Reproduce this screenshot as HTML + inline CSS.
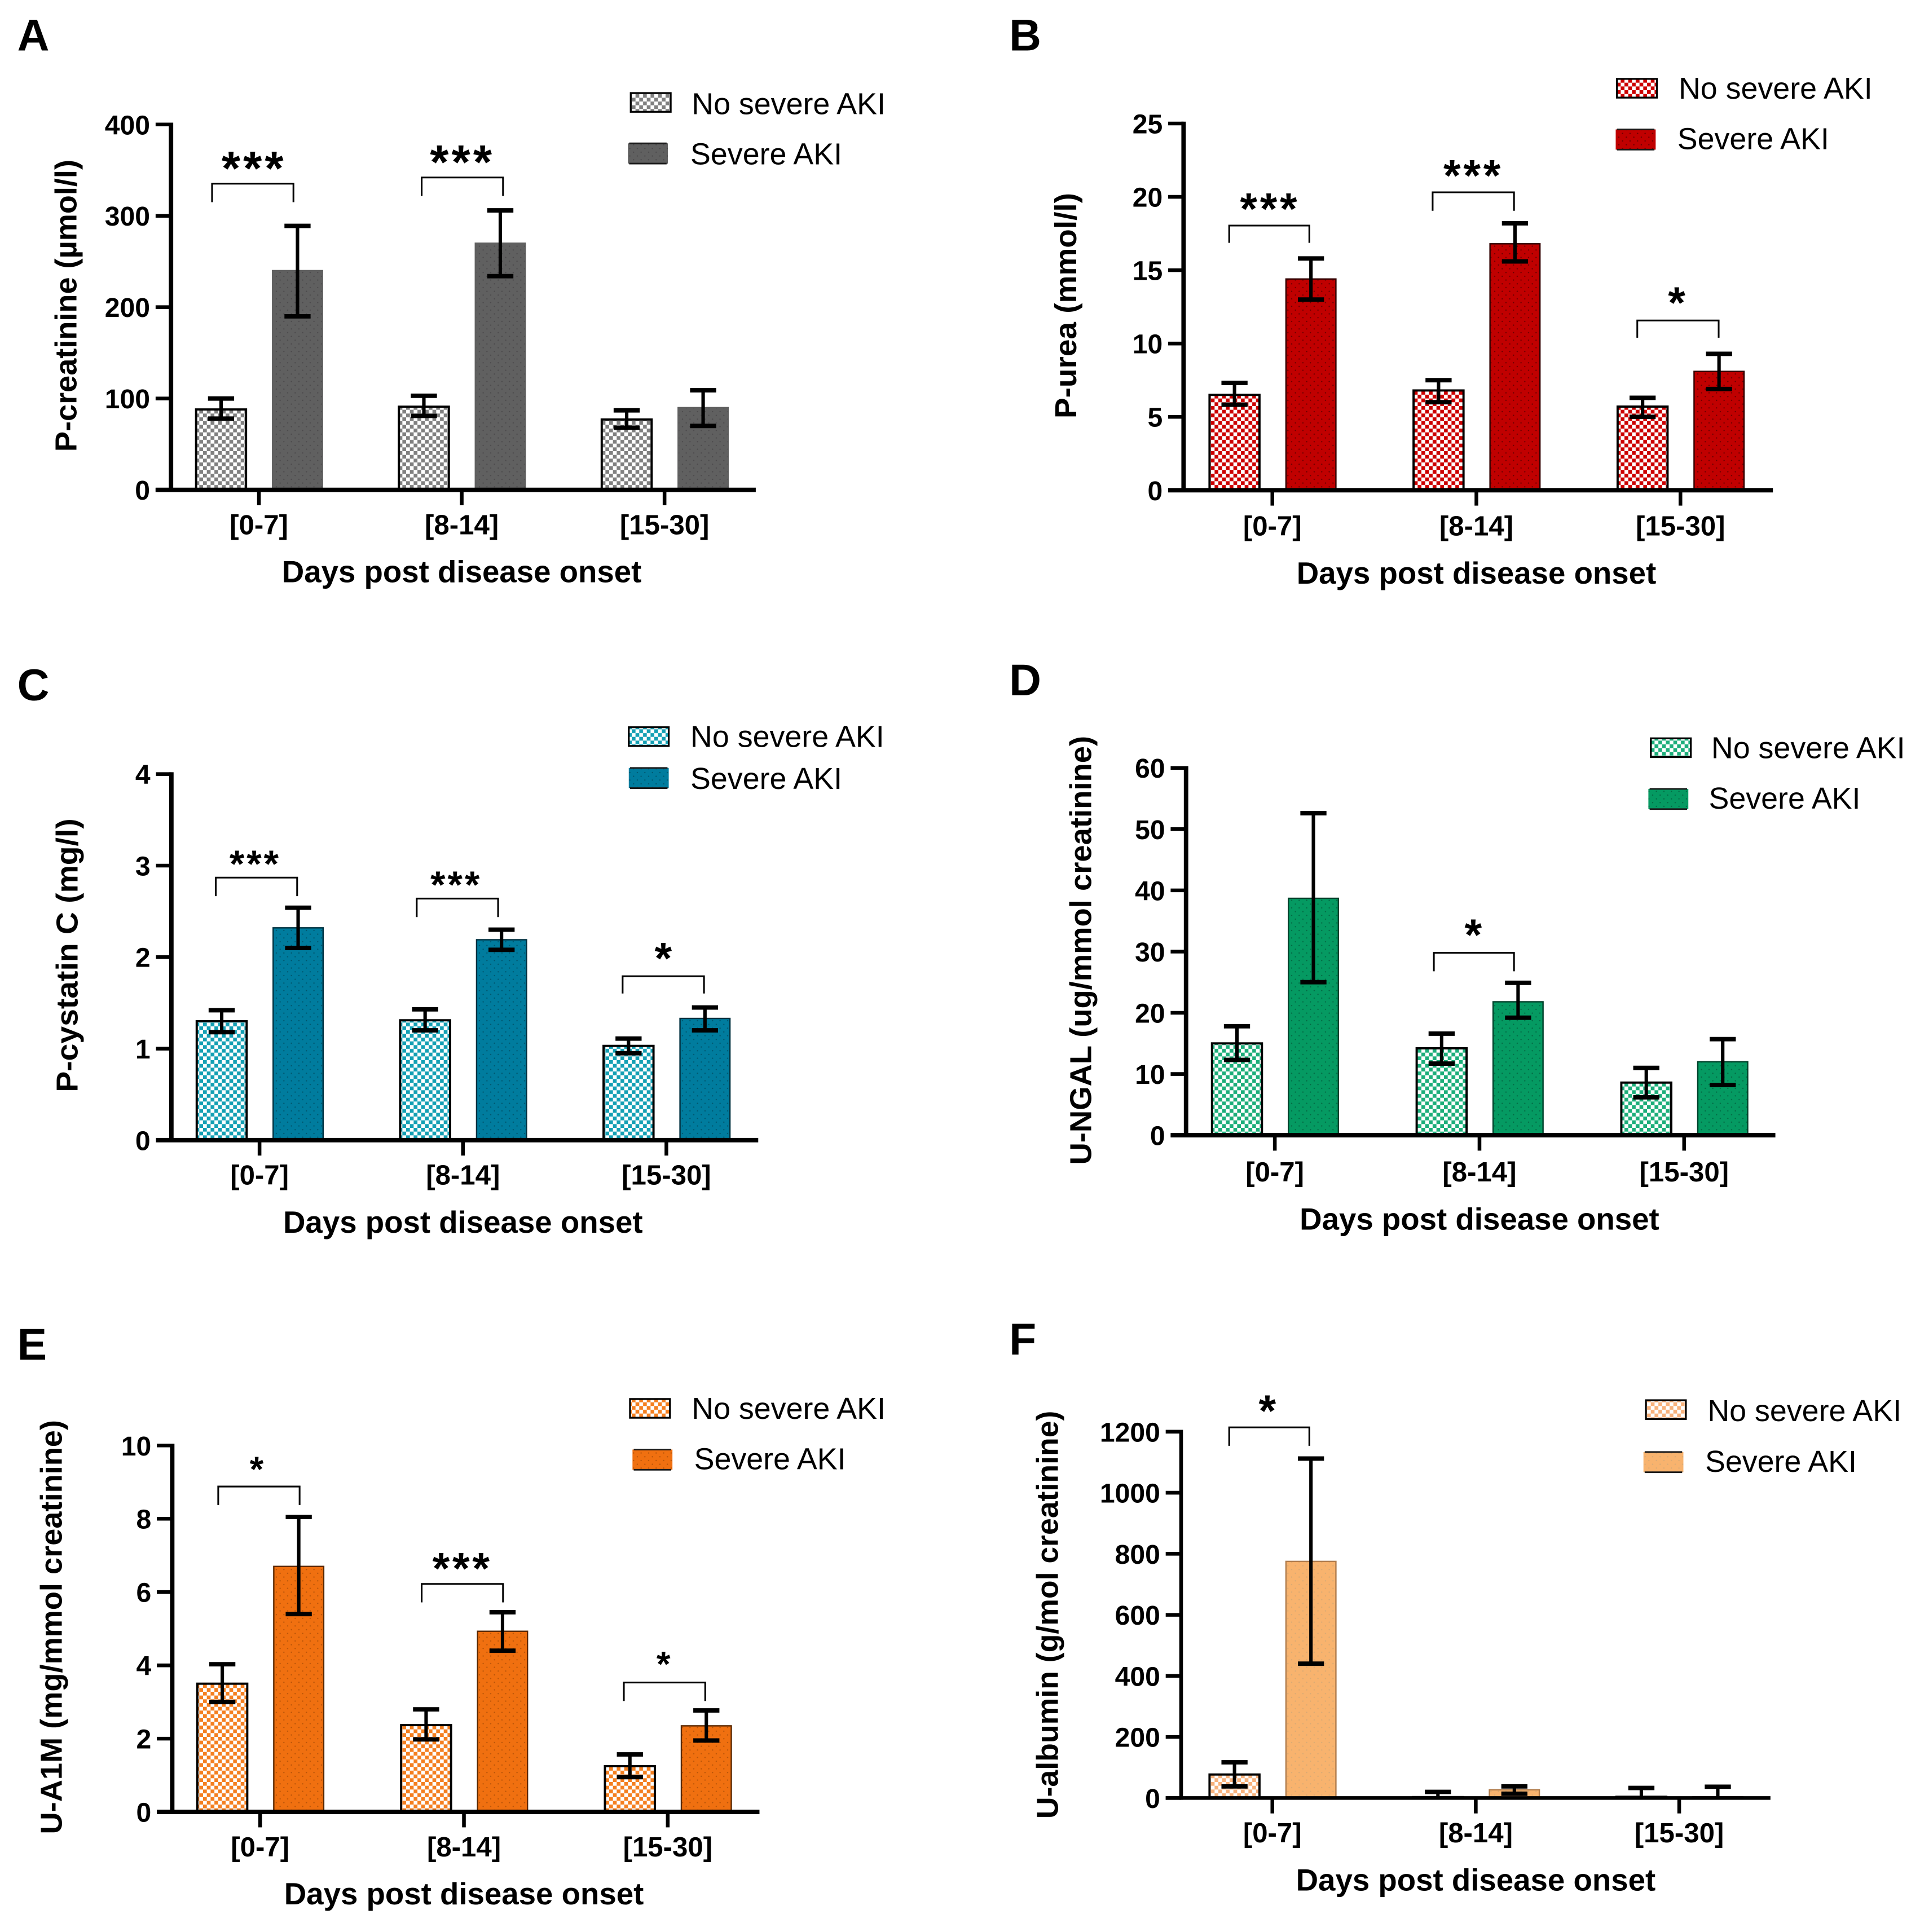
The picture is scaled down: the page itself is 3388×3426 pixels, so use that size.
<!DOCTYPE html>
<html lang="en">
<head>
<meta charset="utf-8">
<title>AKI biomarkers by days post disease onset</title>
<style>
html,body{margin:0;padding:0;background:#fff;width:3388px;height:3426px;overflow:hidden}
svg{display:block}
text{font-family:"Liberation Sans",Arial,sans-serif;fill:#000}
</style>
</head>
<body>
<svg id="figure" xmlns="http://www.w3.org/2000/svg" width="3388" height="3426" viewBox="0 0 1550 1567.4">
<rect width="1550" height="1567.4" fill="#fff"/>
<defs id="defs"></defs>
</svg>
<script>
const categories = ["[0-7]", "[8-14]", "[15-30]"];
const seriesNames = ["No severe AKI", "Severe AKI"];
const xAxisTitle = "Days post disease onset";

const aTicks = ["0", "100", "200", "300", "400"];
const aNo = [88, 91, 77];
const aNoHigh = [100, 103, 87];
const aNoLow = [78, 81, 68];
const aSevere = [240, 270, 90];
const aSevereHigh = [289, 306, 109];
const aSevereLow = [190, 234, 70];

const bTicks = ["0", "5", "10", "15", "20", "25"];
const bNo = [6.5, 6.8, 5.7];
const bNoHigh = [7.32, 7.5, 6.3];
const bNoLow = [5.83, 6.0, 5.0];
const bSevere = [14.4, 16.8, 8.1];
const bSevereHigh = [15.8, 18.2, 9.3];
const bSevereLow = [13.0, 15.6, 6.9];

const cTicks = ["0", "1", "2", "3", "4"];
const cNo = [1.3, 1.31, 1.03];
const cNoHigh = [1.42, 1.43, 1.11];
const cNoLow = [1.18, 1.2, 0.95];
const cSevere = [2.32, 2.19, 1.33];
const cSevereHigh = [2.54, 2.3, 1.45];
const cSevereLow = [2.1, 2.08, 1.2];

const dTicks = ["0", "10", "20", "30", "40", "50", "60"];
const dNo = [15, 14.2, 8.6];
const dNoHigh = [17.8, 16.6, 11];
const dNoLow = [12.3, 11.7, 6.2];
const dSevere = [38.7, 21.8, 12];
const dSevereHigh = [52.6, 24.9, 15.7];
const dSevereLow = [25, 19.2, 8.2];

const eTicks = ["0", "2", "4", "6", "8", "10"];
const eNo = [3.5, 2.37, 1.25];
const eNoHigh = [4.03, 2.8, 1.57];
const eNoLow = [3, 1.98, 0.95];
const eSevere = [6.7, 4.93, 2.35];
const eSevereHigh = [8.05, 5.45, 2.77];
const eSevereLow = [5.4, 4.4, 1.95];

const fTicks = ["0", "200", "400", "600", "800", "1000", "1200"];
const fNo = [77, 3, 4];
const fNoHigh = [117, 20, 33];
const fNoLow = [38, 0, 0];
const fSevere = [775, 27, 4];
const fSevereHigh = [1112, 38, 37];
const fSevereLow = [440, 14, 0];

const panels = [
 {id:"a",letter:"A",lx:14,ly:41,ax:138.7,y0:397.4,yTop:101,xEnd:613,t0:210,step:164.5,labShift:0,color:"#606060",check:"#808080",edge:"#606060",dot:"#4c4a4c",ticks:aTicks,no:aNo,noHigh:aNoHigh,noLow:aNoLow,sev:aSevere,sevHigh:aSevereHigh,sevLow:aSevereLow,
  yTitle:"P-creatinine (µmol/l)",ytx:62,ytc:248,ytl:237,
  leg:[[511.6,75.5,561,92.7],[509.3,116.3,560,133.4]],
  sig:[[172,238,149,164,206,122,39,"***"],[342,408,144,159,375,117,39,"***"]]},
 {id:"b",letter:"B",lx:818.5,ly:41,ax:960,y0:397.7,yTop:100.2,xEnd:1438,t0:1032,step:165.5,labShift:0.8,color:"#c00000",check:"#cc0000",edge:"#300000",dot:"#6a0000",ticks:bTicks,no:bNo,noHigh:bNoHigh,noLow:bNoLow,sev:bSevere,sevHigh:bSevereHigh,sevLow:bSevereLow,
  yTitle:"P-urea (mmol/l)",ytx:873,ytc:248,ytl:183,
  leg:[[1311.5,64,1361.5,80],[1310.5,105,1360.5,121]],
  sig:[[997,1062,183,197,1030,156,36,"***"],[1162,1228,156,171,1195,129,36,"***"],[1328,1394,260,274,1361,232,36,"*"]]},
 {id:"c",letter:"C",lx:14,ly:568,ax:139,y0:925,yTop:628,xEnd:615,t0:210.5,step:165,labShift:0,color:"#007c9e",check:"#14a0b4",edge:"#00303f",dot:"#00566e",ticks:cTicks,no:cNo,noHigh:cNoHigh,noLow:cNoLow,sev:cSevere,sevHigh:cSevereHigh,sevLow:cSevereLow,
  yTitle:"P-cystatin C (mg/l)",ytx:63,ytc:775,ytl:222,
  leg:[[510,590,560,606],[510,623,560,640]],
  sig:[[175,241,712,727,207,689,31,"***"],[338,404,729,744,370,706,31,"***"],[505,571,792,806,539,764,36,"*"]]},
 {id:"d",letter:"D",lx:818.5,ly:564,ax:962,y0:921,yTop:623,xEnd:1440,t0:1034,step:166,labShift:1.5,color:"#059a62",check:"#1cae7a",edge:"#00402a",dot:"#046a44",ticks:dTicks,no:dNo,noHigh:dNoHigh,noLow:dNoLow,sev:dSevere,sevHigh:dSevereHigh,sevLow:dSevereLow,
  yTitle:"U-NGAL (ug/mmol creatinine)",ytx:885,ytc:771,ytl:348,
  leg:[[1339,599,1388,615],[1337,640,1386,656]],
  sig:[[1163,1228,773,788,1196,745,36,"*"]]},
 {id:"e",letter:"E",lx:14,ly:1103,ax:139.7,y0:1470,yTop:1172.7,xEnd:616,t0:211,step:165.3,labShift:0,color:"#f07010",check:"#f47f20",edge:"#5a2800",dot:"#b85408",ticks:eTicks,no:eNo,noHigh:eNoHigh,noLow:eNoLow,sev:eSevere,sevHigh:eSevereHigh,sevLow:eSevereLow,
  yTitle:"U-A1M (mg/mmol creatinine)",ytx:50,ytc:1320,ytl:336,
  leg:[[511,1135,561,1151],[513,1176,563,1192]],
  sig:[[177,243,1206,1221,209,1181,29,"*"],[342,408,1285,1300,375,1259,36,"***"],[506,572,1365,1380,539,1339,29,"*"]]},
 {id:"f",letter:"F",lx:818.5,ly:1099,ax:958,y0:1458.7,yTop:1161.5,xEnd:1436,t0:1032,step:165,labShift:0,color:"#f8b36e",check:"#f8b27c",edge:"#b07c4c",dot:"#d8aa74",ticks:fTicks,no:fNo,noHigh:fNoHigh,noLow:fNoLow,sev:fSevere,sevHigh:fSevereHigh,sevLow:fSevereLow,
  yTitle:"U-albumin (g/mol creatinine)",ytx:858,ytc:1310,ytl:331,
  leg:[[1335,1136,1385,1153],[1333,1178,1383,1194]],
  sig:[[997,1062,1158,1173,1029,1131,36,"*"]]}
];

const NS = "http://www.w3.org/2000/svg";
const svg = document.getElementById("figure");
const defs = document.getElementById("defs");

function make(parent, tag, attrs, content) {
  const el = document.createElementNS(NS, tag);
  for (const k in attrs) el.setAttribute(k, attrs[k]);
  if (content !== undefined) el.textContent = content;
  parent.appendChild(el);
  return el;
}

function addPatterns(p) {
  const pat = make(defs, "pattern", {id: "check-" + p.id, patternUnits: "userSpaceOnUse", width: 6.1, height: 6.1});
  make(pat, "rect", {width: 6.1, height: 6.1, fill: "#fff"});
  make(pat, "rect", {width: 3.05, height: 3.05, fill: p.check});
  make(pat, "rect", {x: 3.05, y: 3.05, width: 3.05, height: 3.05, fill: p.check});
  const dots = make(defs, "pattern", {id: "dots-" + p.id, patternUnits: "userSpaceOnUse", width: 6.1, height: 6.1});
  make(dots, "rect", {width: 6.1, height: 6.1, fill: p.color});
  make(dots, "circle", {cx: 1.5, cy: 1.5, r: 0.55, fill: p.dot});
  make(dots, "circle", {cx: 4.55, cy: 4.55, r: 0.55, fill: p.dot});
}

function drawPanel(p) {
  addPatterns(p);
  const yScale = v => p.y0 - (v / Number(p.ticks[p.ticks.length - 1])) * (p.y0 - p.yTop);
  const xScale = i => p.t0 + i * p.step;
  const barOffsets = [-30.7, 31.3];
  const barWidth = 40.5;

  const g = make(svg, "g", {});
  
  

  const letter = make(g, "text", {x: p.lx, y: p.ly, "font-size": 36, "font-weight": "bold"}, p.letter);
  
  

  // bars
  const sets = [[p.no, p.noHigh, p.noLow], [p.sev, p.sevHigh, p.sevLow]];
  sets.forEach((set, s) => {
    set[0].forEach((v, i) => {
      const cx = xScale(i) + barOffsets[s];
      const bar = make(g, "rect", {
        x: cx - barWidth / 2, y: yScale(v), width: barWidth, height: Math.max(0, p.y0 - yScale(v)),
        fill: s === 0 ? "url(#check-" + p.id + ")" : "url(#dots-" + p.id + ")",
        stroke: s === 0 ? "#000" : p.edge,
        "stroke-width": s === 0 ? 1.8 : 1.1
      });
      
      
    });
  });

  // axes
  const axisWidth = p.id === "f" ? 3 : 3.6;
  const yAxis = make(g, "line", {x1: p.ax, x2: p.ax, y1: p.yTop - 1.5, y2: p.y0 + 1.5, stroke: "#000", "stroke-width": axisWidth});
  
  
  const xAxis = make(g, "line", {x1: p.ax - 12.5, x2: p.xEnd, y1: p.y0, y2: p.y0, stroke: "#000", "stroke-width": axisWidth});
  
  

  p.ticks.forEach(t => {
    const y = yScale(Number(t));
    const mark = make(g, "line", {x1: p.ax - 12.5, x2: p.ax, y1: y, y2: y, stroke: "#000", "stroke-width": 3});
    
    
    const label = make(g, "text", {x: p.ax - 17, y: y + 8, "text-anchor": "end", "font-size": 22, "font-weight": "bold"}, t);
    
    
  });

  categories.forEach((c, i) => {
    const x = xScale(i);
    const mark = make(g, "line", {x1: x, x2: x, y1: p.y0, y2: p.y0 + 12.5, stroke: "#000", "stroke-width": 3});
    
    
    const label = make(g, "text", {x: x, y: p.y0 + 36 + p.labShift, "text-anchor": "middle", "font-size": 22.5, "font-weight": "bold"}, c);
    
    
  });

  const xt = make(g, "text", {x: xScale(1), y: p.y0 + 75 + p.labShift, "text-anchor": "middle", "font-size": 25, "font-weight": "bold"}, xAxisTitle);
  
  

  const yt = make(g, "text", {transform: "translate(" + p.ytx + " " + p.ytc + ") rotate(-90)", "text-anchor": "middle", "font-size": 24.5, "font-weight": "bold", textLength: p.ytl, lengthAdjust: "spacingAndGlyphs"}, p.yTitle);
  
  

  // error bars
  sets.forEach((set, s) => {
    set[0].forEach((v, i) => {
      const cx = xScale(i) + barOffsets[s];
      const hi = yScale(set[1][i]), lo = yScale(set[2][i]);
      const stem = make(g, "line", {x1: cx, x2: cx, y1: hi, y2: lo, stroke: "#000", "stroke-width": 2.8});
      
      
      const capHi = make(g, "line", {x1: cx - 10.6, x2: cx + 10.6, y1: hi, y2: hi, stroke: "#000", "stroke-width": 3.6});
      
      
      if (set[2][i] > 0) {
        const capLo = make(g, "line", {x1: cx - 10.6, x2: cx + 10.6, y1: lo, y2: lo, stroke: "#000", "stroke-width": 3.6});
        
        
      }
    });
  });

  // significance
  p.sig.forEach(b => {
    const br = make(g, "polyline", {points: b[0] + "," + b[3] + " " + b[0] + "," + b[2] + " " + b[1] + "," + b[2] + " " + b[1] + "," + b[3], fill: "none", stroke: "#000", "stroke-width": 1.4});
    
    
    const st = make(g, "text", {x: b[4], y: b[5] + 0.72 * b[6], "text-anchor": "middle", "font-size": b[6], "font-weight": "bold", "letter-spacing": "0.06em"}, b[7]);
    
    
  });

  // legend
  p.leg.forEach((l, s) => {
    const sw = make(g, "rect", {x: l[0], y: l[1], width: 32.4, height: s === 0 ? 15.2 : 16.4, fill: s === 0 ? "url(#check-" + p.id + ")" : "url(#dots-" + p.id + ")", stroke: s === 0 ? "#000" : "none", "stroke-width": 1.5});
    
    
    if (s === 1) {
      const edgeTop = make(g, "line", {x1: l[0] + 1, x2: l[0] + 31.4, y1: l[1], y2: l[1], stroke: "#1a1a1a", "stroke-width": 1.3});
      
      
      const edgeBottom = make(g, "line", {x1: l[0] + 1, x2: l[0] + 31.4, y1: l[1] + 16.4, y2: l[1] + 16.4, stroke: "#1a1a1a", "stroke-width": 1.3});
      
      
    }
    const lt = make(g, "text", {x: l[2], y: l[3], "font-size": 24.6}, seriesNames[s]);
    
    
  });
}

panels.forEach(drawPanel);
</script>
</body>
</html>
